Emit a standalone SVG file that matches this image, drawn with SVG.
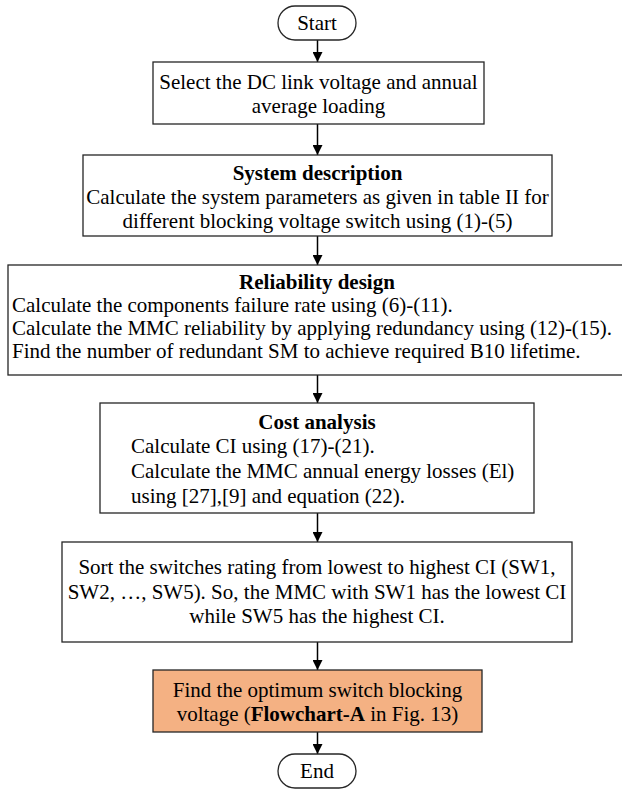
<svg xmlns="http://www.w3.org/2000/svg" width="622" height="789" viewBox="0 0 622 789">
<style>
  .box { fill: #ffffff; stroke: #262626; stroke-width: 1.3; }
  .hl { fill: #F4B183; stroke: #262626; stroke-width: 1.3; }
  text { font-family: "Liberation Serif", "Times New Roman", serif; font-size: 21px; fill: #000; }
  .c { text-anchor: middle; }
  .b { font-weight: bold; }
  .edge { stroke: #000; stroke-width: 1.5; fill: none; marker-end: url(#arr); }
</style>
<defs>
  <marker id="arr" viewBox="0 0 10 10" refX="10" refY="5" markerWidth="10" markerHeight="10" markerUnits="userSpaceOnUse" orient="auto">
    <path d="M0,0 L10,5 L0,10 Z" fill="#000"/>
  </marker>
</defs>
<rect width="622" height="789" fill="#fff"/>
<g id="connectors">
  <line class="edge" x1="317.5" y1="40" x2="317.5" y2="62"/>
  <line class="edge" x1="317.5" y1="124" x2="317.5" y2="155"/>
  <line class="edge" x1="317.5" y1="236" x2="317.5" y2="265"/>
  <line class="edge" x1="317.5" y1="375" x2="317.5" y2="403"/>
  <line class="edge" x1="317.5" y1="513" x2="317.5" y2="542"/>
  <line class="edge" x1="317.5" y1="642" x2="317.5" y2="670"/>
  <line class="edge" x1="317.5" y1="732" x2="317.5" y2="754"/>
</g>
<g id="start">
  <rect class="box" x="278" y="6" width="78" height="34" rx="17"/>
  <text class="c" x="317" y="30">Start</text>
</g>
<g id="select">
  <rect class="box" x="153" y="62" width="331" height="62"/>
  <text class="c" x="318.5" y="89">Select the DC link voltage and annual</text>
  <text class="c" x="318.5" y="113">average loading</text>
</g>
<g id="system">
  <rect class="box" x="83" y="155" width="469" height="81"/>
  <text class="c b" x="317.5" y="180">System description</text>
  <text class="c" x="317.5" y="204">Calculate the system parameters as given in table II for</text>
  <text class="c" x="317.5" y="228">different blocking voltage switch using (1)-(5)</text>
</g>
<g id="reliability">
  <rect class="box" x="8" y="265" width="620" height="110"/>
  <text class="c b" x="317" y="289">Reliability design</text>
  <text x="12" y="312">Calculate the components failure rate using (6)-(11).</text>
  <text x="12" y="335">Calculate the MMC reliability by applying redundancy using (12)-(15).</text>
  <text x="12" y="358">Find the number of redundant SM to achieve required B10 lifetime.</text>
</g>
<g id="cost">
  <rect class="box" x="100" y="403" width="434" height="110"/>
  <text class="c b" x="317" y="429">Cost analysis</text>
  <text x="131" y="453">Calculate CI using (17)-(21).</text>
  <text x="131" y="478">Calculate the MMC annual energy losses (El)</text>
  <text x="131" y="503">using [27],[9] and equation (22).</text>
</g>
<g id="sort">
  <rect class="box" x="62" y="542" width="510" height="100"/>
  <text class="c" x="317" y="574">Sort the switches rating from lowest to highest CI (SW1,</text>
  <text class="c" x="317" y="599">SW2, …, SW5). So, the MMC with SW1 has the lowest CI</text>
  <text class="c" x="317" y="623">while SW5 has the highest CI.</text>
</g>
<g id="optimum">
  <rect class="hl" x="153" y="670" width="329" height="62"/>
  <text class="c" x="317.5" y="697">Find the optimum switch blocking</text>
  <text class="c" x="317.5" y="721">voltage (<tspan class="b">Flowchart-A</tspan> in Fig. 13)</text>
</g>
<g id="end">
  <rect class="box" x="278" y="754" width="78" height="34" rx="17"/>
  <text class="c" x="317" y="778">End</text>
</g>
</svg>
